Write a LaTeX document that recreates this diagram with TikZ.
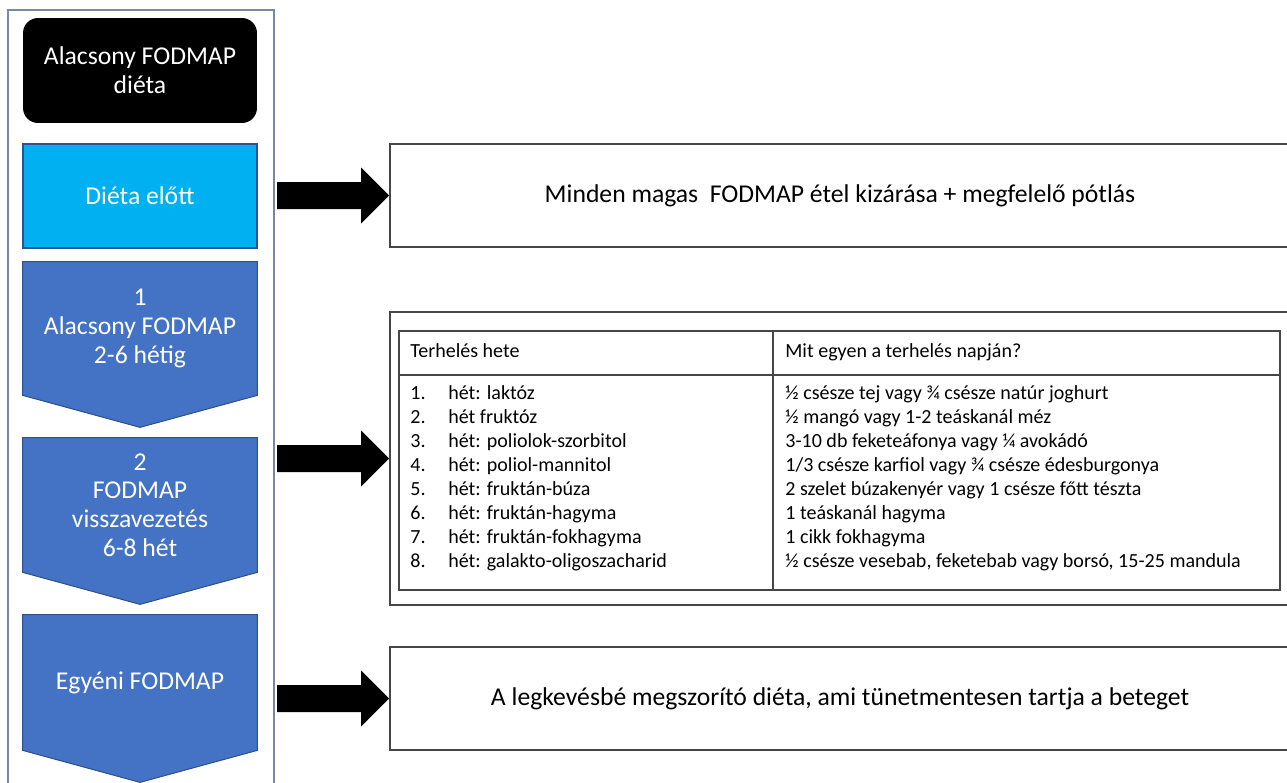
\documentclass[tikz,border=0pt]{standalone}
\usepackage{fontspec}
\setmainfont{Carlito}
\usepackage{tikz}
\usetikzlibrary{calc}
\usetikzlibrary{backgrounds}
\definecolor{stageblue}{RGB}{68,114,196}
\definecolor{stageline}{RGB}{47,82,143}
\definecolor{precyan}{RGB}{0,176,240}
\definecolor{framegray}{RGB}{120,136,162}
\definecolor{boxline}{RGB}{70,70,70}
\tikzstyle{every path}=[line join=miter]
\tikzstyle{bigtext}=[font=\fontsize{14.6}{16.4}\selectfont, align=center, inner sep=0pt]
\tikzstyle{leftbox}=[bigtext, text=white, minimum width=4.68cm]
\tikzstyle{stage}=[leftbox, minimum height=2.66cm]
\tikzstyle{rbox}=[bigtext, draw=boxline, line width=0.9pt, minimum width=18cm, minimum height=2.06cm]
\tikzstyle{cell}=[font=\fontsize{11.4}{13}\selectfont, anchor=base west, inner sep=0pt]
\newcommand{\bigarrow}[1]{\fill (frame.east |- #1.west) ++(2,-13.5) -- ++(84,0) -- ++(0,-14.5) -- ++(28,28) -- ++(-28,28) -- ++(0,-14.5) -- ++(-84,0) -- cycle;}
\newcommand{\chevron}[1]{\filldraw[fill=stageblue, draw=stageline, line width=0.6pt] (#1.north west) -- (#1.north east) -- (#1.south east) -- ($(#1.south)+(0,32)$) -- (#1.south west) -- cycle;}

\begin{document}
\begin{tikzpicture}[x=0.02cm,y=-0.02cm]
\useasboundingbox (0,0) rectangle (1287,782);
\node[draw=framegray, line width=1.2pt, minimum width=5.32cm, minimum height=15.8cm] (frame) at (141,405) {};
\node[leftbox, fill=black, rounded corners=0.3cm, minimum height=2.1cm] (title) at (140,70.5) {Alacsony FODMAP\\diéta};
\node[leftbox, fill=precyan, draw=stageline, line width=0.6pt, minimum height=2.08cm] (pre) at (140,196) {Diéta előtt};
\node[stage] (s1) at (140,328.5) {1\\Alacsony FODMAP\\2-6 hétig};
\node[stage, minimum height=2.68cm] (s2) at (140,505) {2\\FODMAP\\visszavezetés\\6-8 hét};
\node[stage, minimum height=2.7cm] (s3) at (140,682.5) {Egyéni FODMAP};
\begin{pgfonlayer}{background}
\chevron{s1}
\chevron{s2}
\chevron{s3}
\end{pgfonlayer}
\node[rbox] (box1) at (840,195.5) {Minden magas~~FODMAP étel kizárása + megfelelő pótlás};
\node[rbox, minimum height=5.86cm] (box2) at (840,458.5) {};
\node[rbox] (box3) at (840,698.5) {A legkevésbé megszorító diéta, ami tünetmentesen tartja a beteget};
\bigarrow{box1}
\bigarrow{box2}
\bigarrow{box3}
\node[draw=boxline, line width=0.9pt, minimum width=17.62cm, minimum height=5.18cm] (tab) at (839.5,460.5) {};
\coordinate (hsep) at (0,375);
\coordinate (csep) at (773,0);
\draw[boxline, line width=0.9pt] (tab.west |- hsep) -- (tab.east |- hsep);
\draw[boxline, line width=0.9pt] (csep |- tab.north) -- (csep |- tab.south);
\node[cell] (h1) at (410,357) {Terhelés hete};
\node[cell] (h2) at (785,357) {Mit egyen a terhelés napján?};
\foreach \w/\f [count=\i] in {{hét: laktóz}/{½ csésze tej vagy ¾ csésze natúr joghurt},
  {hét fruktóz}/{½ mangó vagy 1-2 teáskanál méz},
  {hét: poliolok-szorbitol}/{3-10 db feketeáfonya vagy ¼ avokádó},
  {hét: poliol-mannitol}/{1/3 csésze karfiol vagy ¾ csésze édesburgonya},
  {hét: fruktán-búza}/{2 szelet búzakenyér vagy 1 csésze főtt tészta},
  {hét: fruktán-hagyma}/{1 teáskanál hagyma},
  {hét: fruktán-fokhagyma}/{1 cikk fokhagyma},
  {hét: galakto-oligoszacharid}/{½ csésze vesebab, feketebab vagy borsó, 15-25 mandula}}
{
\node[cell] (n\i) at (410,{375+24*\i}) {\i.};
\node[cell] (w\i) at (448,{375+24*\i}) {\w};
\node[cell] (f\i) at (785,{375+24*\i}) {\f};
}
\end{tikzpicture}
\end{document}
